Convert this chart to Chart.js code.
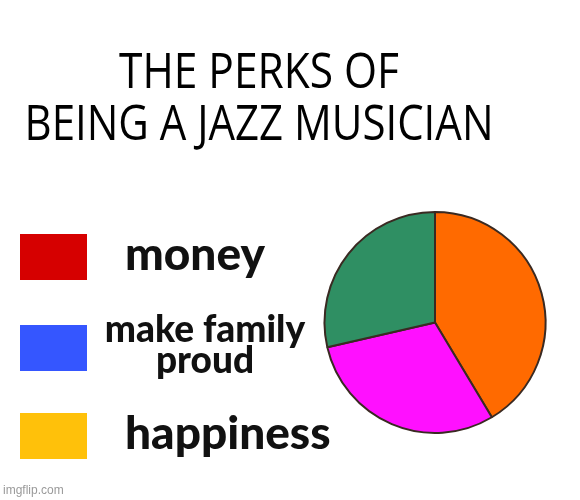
<!DOCTYPE html>
<html>
<head>
<meta charset="utf-8">
<script src="https://cdn.jsdelivr.net/npm/chart.js@4"></script>
<style>
  html, body { margin: 0; padding: 0; background: #fff; }
  #wrap { width: 580px; height: 500px; }
</style>
</head>
<body>
<div id="wrap"><canvas id="myChart" width="580" height="500"></canvas></div>
<script>
// dados do meme
const titulo = ['THE PERKS OF', 'BEING A JAZZ MUSICIAN'];
const rotulos = ['money', 'make family proud', 'happiness'];
const linhasRotulos = [['money'], ['make family', 'proud'], ['happiness']];
const fatias = [41.4, 30.0, 28.6]; // laranja, magenta, verde
const coresFatias = ['#ff6a00', '#ff10ff', '#2f8f63'];
const coresLegenda = ['#d60000', '#3556ff', '#ffc10a'];

// plugin que desenha o título, a legenda "errada" e a marca d'água
const textoMeme = {
    id: 'textoMeme',
    afterDraw(chart) {
        const ctx = chart.ctx;
        ctx.save();

        // título
        ctx.fillStyle = '#000';
        ctx.textAlign = 'center';
        ctx.textBaseline = 'alphabetic';
        ctx.font = '50px "Open Sans"';
        const larguras = [280, 469];
        const bases = [88, 140];
        titulo.forEach((t, i) => {
            const w = ctx.measureText(t).width;
            ctx.save();
            ctx.translate(259, bases[i]);
            ctx.scale(larguras[i] / w, 1);
            ctx.fillText(t, 0, 0);
            ctx.restore();
        });

        // legenda
        const topos = [234, 325, 413];
        coresLegenda.forEach((c, i) => {
            ctx.fillStyle = c;
            ctx.fillRect(20, topos[i], 67, 46);
            const linhas = linhasRotulos[i];
            const grande = linhas.length === 1;
            ctx.fillStyle = '#111';
            ctx.font = grande ? '900 46px Lato' : '900 37px Lato';
            ctx.textAlign = grande ? 'left' : 'center';
            ctx.textBaseline = 'middle';
            const x = grande ? 125 : 205;
            const alt = grande ? 0 : 31;
            const meio = topos[i] + 21;
            linhas.forEach((l, j) => {
                const y = meio - alt * (linhas.length - 1) / 2 + j * alt;
                ctx.fillText(l, x, y);
            });
        });

        // marca d'água
        ctx.fillStyle = '#9a9a9a';
        ctx.font = '12px "Liberation Sans"';
        ctx.textAlign = 'left';
        ctx.textBaseline = 'alphabetic';
        ctx.fillText('imgflip.com', 3, 494);
        ctx.restore();
    }
};

const ctx = document.getElementById('myChart').getContext('2d');
const myChart = new Chart(ctx, {
    type: 'pie',
    data: {
        labels: rotulos,
        datasets: [{
            data: fatias,
            backgroundColor: coresFatias,
            borderColor: '#3a2a22',
            borderWidth: 2
        }]
    },
    options: {
        responsive: false,
        animation: false,
        rotation: 0,
        layout: {
            padding: { top: 211, right: 33, bottom: 66, left: 323 }
        },
        plugins: {
            legend: { display: false },
            tooltip: { enabled: false },
            title: { display: false }
        }
    },
    plugins: [textoMeme]
});
</script>
</body>
</html>
